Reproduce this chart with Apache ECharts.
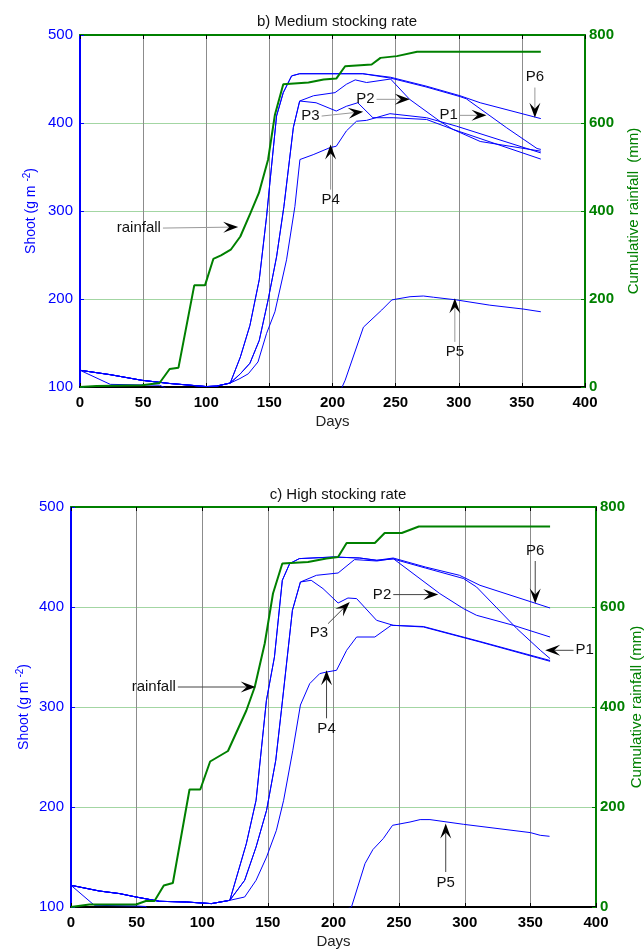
<!DOCTYPE html>
<html>
<head>
<meta charset="utf-8">
<script src="https://cdn.jsdelivr.net/npm/echarts@6/dist/echarts.min.js"></script>
<style>
html,body{margin:0;padding:0;background:#fff}
#chart{width:644px;height:949px}
</style>
</head>
<body>
<div id="chart"></div>
<script>
// ---- b) Medium stocking rate : shoot mass (g m-2) and cumulative rainfall (mm) by day ----
const medEarly = [[0,119],[24,114],[49,107.6],[71,104],[100,100.5],[108,101],[119,104.5]];
const medFastRise = [[127,134],[134.6,170],[142,222],[147.8,294],[150.4,332],[155.7,408],[161,434.5],[167.6,453.5],[174,456],[224,456]];
const medMidRise = [[127,115],[134.6,127],[142,153],[149,199],[155.7,248],[161.5,305],[169,395],[174,425]];
const medP6 = medEarly.concat(medFastRise, [[246,452],[274,442],[301,431],[317,423],[365,405]]);
const medP1 = medEarly.concat(medFastRise, [[246,451],[274,441],[301,430],[306,427.5],[338,394.5],[362,371],[365,370]]);
const medP2 = medEarly.concat(medMidRise, [[185,431],[202,434.5],[211,444],[218,449],[227,446],[246,450],[261,427],[285,402],[295,393],[317,379],[365,368]]);
const medP3 = medEarly.concat(medMidRise, [[187,423],[203,413.6],[211,419],[220,423],[232,406],[248,406],[274.5,404],[296,392.5],[365,359]]);
const medP4 = medEarly.concat([[126.7,109.6],[133.3,115],[141,128.5],[147.8,161],[154.4,185.5],[163.6,244.5],[170.2,305],[174.2,358.5],[184.7,364],[198,372],[203,373.6],[211,391],[219,402],[227,403],[245.5,410.6],[274.5,406],[298,396.5],[365,366]]);
const medP5 = [[0,119],[24,103],[63,102],[69,98],[80,90],[195,90],[207,98],[210,107.6],[224.5,168],[239,187.5],[247,199],[261.4,202.6],[272,203.4],[280,202],[298,199],[324.6,193],[351,188.6],[365,185.5]];
const medRain = [[0,0],[13,2],[49,4],[63,9],[71,41],[78,44],[90.5,231],[99,231],[105.6,291],[111.7,299],[119.4,312],[127,342],[135,395],[141.7,441],[149,517],[154.4,619],[161,688],[181,692],[193,699],[203,701],[210,729],[231,733],[238,748],[251,752],[267,762],[365,762]];
const medNotes = [
  {text:'rainfall', from:[65.7,280.6], to:[125.3,281.8]},
  {text:'P3', from:[191.4,407.9], to:[224.3,412.9]},
  {text:'P2', from:[234.9,426.9], to:[261.3,426.9]},
  {text:'P1', from:[300.9,408.7], to:[322,408.7]},
  {text:'P6', from:[360.3,440.3], to:[360.3,406]},
  {text:'P4', from:[198.5,324.3], to:[198.5,375.6]},
  {text:'P5', from:[296.9,151.3], to:[296.9,200.8]}
];

// ---- c) High stocking rate ----
const highEarly = [[0,121.7],[21.6,116],[37,113.4],[49.6,110],[67.4,105.7],[88,105],[99.5,104],[107,103.4],[121,106.7]];
const highFastRise = [[133.6,163.4],[141,206.7],[148.9,306.7],[155,350],[161,426.7],[166.6,443.4],[174,448.4],[200,450],[220,449],[233,446.7]];
const highMidRise = [[132.3,126.7],[141,160],[149,196.7],[156,246.7],[160.3,296.7],[168.7,396.7],[174.8,425]];
const highP6 = highEarly.concat(highFastRise, [[245.5,449],[270,440],[296,431.7],[311.6,421.7],[365,399]]);
const highP1 = highEarly.concat(highFastRise, [[245.5,448],[270,439],[299,428.5],[309,420],[339.7,378.4],[357.6,356.7],[365,348.4]]);
const highP2 = highEarly.concat(highMidRise, [[187,431.7],[203.5,434],[216,447.4],[233,446],[245.5,448.4],[281,413.4],[299,398.4],[309,391.7],[337,381.7],[365,370]]);
const highP3 = highEarly.concat(highMidRise, [[183,426.7],[192,418.4],[203.5,404],[211,409],[217.6,408.4],[232.8,386.7],[245.5,381.7],[268.5,380],[311.7,365],[365,345.7]]);
const highP4 = highEarly.concat([[132.3,110],[141,126.7],[149,150],[156.5,176.7],[162,206.7],[169,256.7],[174.8,302],[181.9,323.4],[189.5,333.4],[194.7,335],[202.3,336.7],[210,356.7],[217.6,370],[231.5,370],[244,381.7],[268.5,380.5],[311.7,365.5],[365,346.5]]);
const highP5 = [[0,121.7],[17.8,101.7],[50,101],[57,100.5],[60,92],[200,92],[213.7,100],[224,143.4],[230,157.4],[237.9,168.4],[245,181.7],[258.3,185],[266,187.4],[273.5,187.4],[299,182.7],[350,174.4],[357.5,171.7],[364.6,170.7]];
const highRain = [[0,0],[14,5],[49.6,5],[57,12],[63.6,12],[70.7,43],[77.6,48],[90.3,235],[98.5,235],[106,291],[119.6,312],[133.6,393],[140,440],[147.6,527],[153.9,627],[161,687],[180.6,690],[194.6,697],[203.5,700],[210,728],[231.5,728],[239,748],[252,748],[265,761],[365,761]];
const highNotes = [
  {text:'rainfall', from:[81.4,320], to:[140.7,320]},
  {text:'P3', from:[195.9,383.4], to:[212.4,405]},
  {text:'P4', from:[194.7,288.7], to:[194.7,336.7]},
  {text:'P2', from:[245.5,412.4], to:[279.8,412.4]},
  {text:'P6', from:[353.7,446], to:[353.7,403.4]},
  {text:'P1', from:[382.9,356.7], to:[361.3,356.7]},
  {text:'P5', from:[285.5,135], to:[285.5,183.4]}
];

const panelTitles = ['b) Medium stocking rate', 'c) High stocking rate'];
const rainNames = ['Cumulative rainfall  (mm)', 'Cumulative rainfall (mm)'];
const dayTicks = {min: 0, max: 400, interval: 50};
const shootTicks = {min: 100, max: 500, interval: 100};
const rainTicks = {min: 0, max: 800, interval: 200};

const FONT = '"Liberation Sans", Arial, sans-serif';
const BLUE = '#0000ff';
const GREEN = '#008000';

function shootLine(data, gi) {
  return {type: 'line', xAxisIndex: gi * 2, yAxisIndex: gi * 2, data: data,
    showSymbol: false, symbol: 'none', clip: true, silent: true,
    lineStyle: {color: BLUE, width: 1}, z: 3};
}
function rainLine(data, gi) {
  return {type: 'line', xAxisIndex: gi * 2, yAxisIndex: gi * 2 + 1, data: data,
    showSymbol: false, symbol: 'none', silent: true,
    lineStyle: {color: GREEN, width: 2}, z: 4};
}
// Annotation arrows: a thin shaft from the label to a filled barbed head
function noteSeries(list, gi, lineColor) {
  return {
    type: 'custom', xAxisIndex: gi * 2, yAxisIndex: gi * 2, silent: true, z: 10,
    data: list.map(a => [a.from[0], a.from[1], a.to[0], a.to[1]]),
    renderItem: function (params, api) {
      const p0 = api.coord([api.value(0), api.value(1)]);
      const p1 = api.coord([api.value(2), api.value(3)]);
      const dx = p1[0] - p0[0], dy = p1[1] - p0[1];
      const len = Math.hypot(dx, dy);
      const ux = dx / len, uy = dy / len;
      const nx = -uy, ny = ux;
      const L = 15, W = 5.5, notch = 9;
      const base = [p1[0] - ux * notch, p1[1] - uy * notch];
      const head = [
        [p1[0], p1[1]],
        [p1[0] - ux * L + nx * W, p1[1] - uy * L + ny * W],
        base,
        [p1[0] - ux * L - nx * W, p1[1] - uy * L - ny * W]
      ];
      let align, valign, tx = p0[0], ty = p0[1];
      if (Math.abs(ux) > 2 * Math.abs(uy)) {
        align = ux > 0 ? 'right' : 'left'; valign = 'middle'; tx -= ux * 2;
      } else if (Math.abs(uy) > 2 * Math.abs(ux)) {
        align = 'center'; valign = uy < 0 ? 'top' : 'bottom'; ty -= uy * 3;
      } else {
        align = ux > 0 ? 'right' : 'left'; valign = uy < 0 ? 'top' : 'bottom'; ty -= uy * 3;
      }
      return {type: 'group', children: [
        {type: 'line', shape: {x1: p0[0], y1: p0[1], x2: base[0], y2: base[1]},
          style: {stroke: lineColor, lineWidth: 1}},
        {type: 'polygon', shape: {points: head}, style: {fill: '#000'}},
        {type: 'text', style: {text: list[params.dataIndex].text, x: tx, y: ty,
          align: align, verticalAlign: valign, textAlign: align, textVerticalAlign: valign,
          fill: '#111', font: '15px ' + FONT}}
      ]};
    }
  };
}

const grids = [
  {left: 80, top: 35, width: 505, height: 352, outerBoundsMode: 'none', containLabel: false},
  {left: 71, top: 507, width: 525, height: 400, outerBoundsMode: 'none', containLabel: false}
];
const leftNameGap = [40, 38];
const rightNameGap = [41, 33];

const xAxes = [], yAxes = [];
grids.forEach((g, gi) => {
  xAxes.push({
    type: 'value', gridIndex: gi, position: 'bottom', min: dayTicks.min, max: dayTicks.max, interval: dayTicks.interval,
    name: 'Days', nameLocation: 'middle', nameGap: 27, nameMoveOverlap: false,
    nameTextStyle: {color: '#222', fontSize: 15, fontFamily: FONT},
    axisLine: {show: true, onZero: false, lineStyle: {color: '#000', width: 2}},
    axisTick: {show: true, inside: true, length: 4, lineStyle: {color: '#000'}},
    axisLabel: {color: '#000', fontSize: 15, fontWeight: 'bold', fontFamily: FONT, margin: 8},
    splitLine: {show: true, lineStyle: {color: '#8c8c8c', width: 1}}
  });
  xAxes.push({
    type: 'value', gridIndex: gi, position: 'top', min: dayTicks.min, max: dayTicks.max, interval: dayTicks.interval,
    axisLine: {show: true, onZero: false, lineStyle: {color: GREEN, width: 2}},
    axisTick: {show: true, inside: true, length: 4, lineStyle: {color: '#000'}},
    axisLabel: {show: false}, splitLine: {show: false}
  });
  yAxes.push({
    type: 'value', gridIndex: gi, position: 'left', min: shootTicks.min, max: shootTicks.max, interval: shootTicks.interval,
    name: '{a|Shoot (g m }{s|-2}{a|)}', nameLocation: 'middle', nameGap: leftNameGap[gi], nameRotate: 90,
    nameMoveOverlap: false,
    nameTextStyle: {color: BLUE, fontFamily: FONT,
      rich: {a: {color: BLUE, fontSize: 14, fontFamily: FONT},
             s: {color: BLUE, fontSize: 10, fontFamily: FONT, padding: [0, 0, 8, 0]}}},
    axisLine: {show: true, onZero: false, lineStyle: {color: BLUE, width: 2}},
    axisTick: {show: true, inside: true, length: 4, lineStyle: {color: BLUE}},
    axisLabel: {color: BLUE, fontSize: 15, fontFamily: FONT, margin: 7},
    splitLine: {show: false}
  });
  yAxes.push({
    type: 'value', gridIndex: gi, position: 'right', min: rainTicks.min, max: rainTicks.max, interval: rainTicks.interval,
    name: rainNames[gi], nameLocation: 'middle', nameGap: rightNameGap[gi], nameRotate: 90,
    nameMoveOverlap: false,
    nameTextStyle: {color: GREEN, fontSize: 15, fontFamily: FONT},
    axisLine: {show: true, onZero: false, lineStyle: {color: GREEN, width: 2}},
    axisTick: {show: true, inside: true, length: 4, lineStyle: {color: GREEN}},
    axisLabel: {color: GREEN, fontSize: 15, fontWeight: 'bold', fontFamily: FONT, margin: 4},
    splitLine: {show: true, lineStyle: {color: '#a3d6a3', width: 1}}
  });
});

const chart = echarts.init(document.getElementById('chart'), null, {renderer: 'canvas'});
chart.setOption({
  animation: false,
  backgroundColor: '#fff',
  title: [
    {text: panelTitles[0], left: 332, top: 9, textAlign: 'center',
      textStyle: {fontSize: 15, fontWeight: 'normal', color: '#111', fontFamily: FONT}},
    {text: panelTitles[1], left: 333, top: 482, textAlign: 'center',
      textStyle: {fontSize: 15, fontWeight: 'normal', color: '#111', fontFamily: FONT}}
  ],
  grid: grids,
  xAxis: xAxes,
  yAxis: yAxes,
  series: [
    shootLine(medP1, 0), shootLine(medP2, 0), shootLine(medP3, 0),
    shootLine(medP4, 0), shootLine(medP5, 0), shootLine(medP6, 0),
    rainLine(medRain, 0), noteSeries(medNotes, 0, '#999'),
    shootLine(highP1, 1), shootLine(highP2, 1), shootLine(highP3, 1),
    shootLine(highP4, 1), shootLine(highP5, 1), shootLine(highP6, 1),
    rainLine(highRain, 1), noteSeries(highNotes, 1, '#444')
  ]
});
</script>
</body>
</html>
